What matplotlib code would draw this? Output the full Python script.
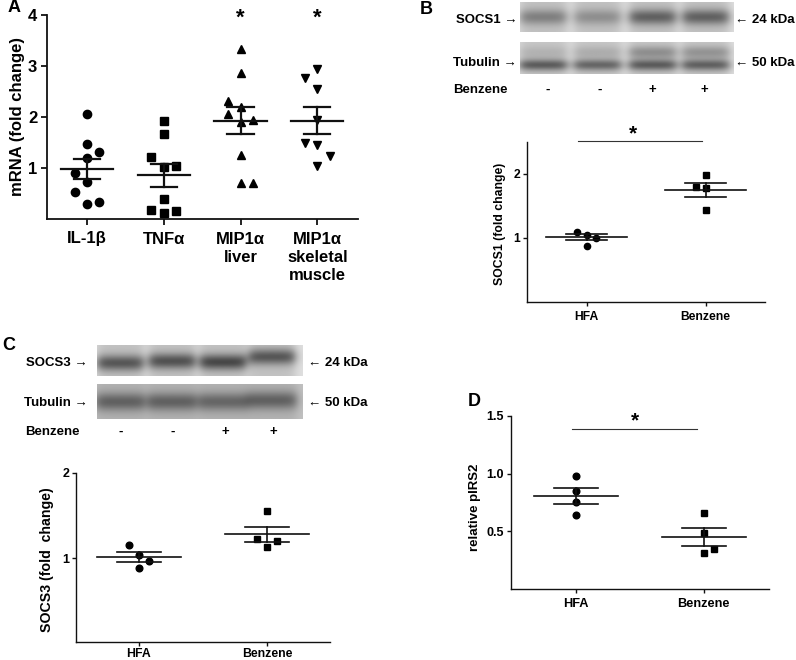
import numpy as np
import matplotlib
matplotlib.use('Agg')
import matplotlib.pyplot as plt

plt.rcParams['font.family'] = ['Liberation Sans', 'DejaVu Sans']
plt.rcParams['font.weight'] = 'bold'
plt.rcParams['axes.labelweight'] = 'bold'

# ---------------- data ----------------
# Panel A
a_categories = ['IL-1β', 'TNFα', 'MIP1α\nliver', 'MIP1α\nskeletal\nmuscle']
a_il1b = [2.06, 1.47, 1.32, 1.20, 0.90, 0.73, 0.52, 0.29, 0.34]
a_il1b_slot = [0, 0, 1, 0, -1, 0, -1, 0, 1]
a_tnfa = [1.93, 1.66, 1.21, 1.01, 1.03, 0.40, 0.18, 0.12, 0.16]
a_tnfa_slot = [0, 0, -1, 0, 1, 0, -1, 0, 1]
a_mip_liver = [3.33, 2.86, 2.32, 2.19, 2.06, 1.91, 1.95, 1.25, 0.70, 0.70]
a_mip_liver_slot = [0, 0, -1, 0, -1, 0, 1, 0, 0, 1]
a_mip_muscle = [2.94, 2.77, 2.54, 1.95, 1.50, 1.45, 1.24, 1.03]
a_mip_muscle_slot = [0, -1, 0, 0, -1, 0, 1, 0]
a_yticks = [1, 2, 3, 4]
a_significant = [2, 3]

# Panel B
b_groups = ['HFA', 'Benzene']
b_hfa = [1.09, 1.05, 1.00, 0.875]
b_hfa_slot = [-1, 0, 1, 0]
b_benz = [1.99, 1.79, 1.78, 1.43]
b_benz_slot = [0, -1, 0, 0]
b_yticks = [1, 2]
b_signs = ['-', '-', '+', '+']
b_socs1_bands = [0.26, 0.20, 0.38, 0.38]
b_socs1_pos = [0.5, 0.5, 0.5, 0.5]
b_tub_bands = [0.42, 0.38, 0.42, 0.40]
b_tub_pos = [0.72, 0.72, 0.72, 0.72]
b_tub_smear = [0.08, 0.10, 0.22, 0.20]

# Panel C
c_groups = ['HFA', 'Benzene']
c_hfa = [1.16, 1.04, 0.97, 0.88]
c_hfa_slot = [-1, 0, 1, 0]
c_benz = [1.55, 1.23, 1.20, 1.13]
c_benz_slot = [0, -1, 1, 0]
c_yticks = [1, 2]
c_signs = ['-', '-', '+', '+']
c_socs3_bands = [0.42, 0.44, 0.48, 0.42]
c_socs3_pos = [0.58, 0.52, 0.55, 0.38]
c_tub_bands = [0.32, 0.32, 0.30, 0.32]
c_tub_pos = [0.52, 0.52, 0.52, 0.48]

# Panel D
d_groups = ['HFA', 'Benzene']
d_hfa = [0.974, 0.846, 0.75, 0.64]
d_hfa_slot = [0, 0, 0, 0]
d_benz = [0.66, 0.48, 0.34, 0.31]
d_benz_slot = [0, 0, 1, 0]
d_yticks = [0.5, 1.0, 1.5]

# ---------------- figure ----------------
W, H = 796, 660
fig = plt.figure(figsize=(W / 100, H / 100), dpi=100)


def rect(l, t, r, b):
    return [l / W, 1 - b / H, (r - l) / W, (b - t) / H]


def ftext(x, y, s, **kw):
    fig.text(x / W, 1 - y / H, s, **kw)


def mean_sem(ax, x, vals, mhalf, chalf, lw):
    v = np.asarray(vals)
    m = v.mean()
    se = v.std(ddof=1) / np.sqrt(len(v))
    ax.plot([x - mhalf, x + mhalf], [m, m], color='#111111', lw=lw, zorder=4)
    ax.plot([x - chalf, x + chalf], [m + se, m + se], color='#111111', lw=lw, zorder=4)
    ax.plot([x - chalf, x + chalf], [m - se, m - se], color='#111111', lw=lw, zorder=4)
    ax.plot([x, x], [m - se, m + se], color='#111111', lw=lw, zorder=4)


def style(ax, lw, ticklen):
    for s in ['top', 'right']:
        ax.spines[s].set_visible(False)
    for s in ['left', 'bottom']:
        ax.spines[s].set_linewidth(lw)
        ax.spines[s].set_color('#111111')
    ax.tick_params(width=lw, length=ticklen, color='#111111')


def blot(rect_px, centers, dark, pos, band_sy, bg, lane_dark, hw, smear=None, smear_y=0.3):
    ax = fig.add_axes(rect(*rect_px))
    nx, ny = 400, 80
    X, Y = np.meshgrid(np.linspace(0, 1, nx), np.linspace(0, 1, ny))
    img = np.full((ny, nx), bg)
    for i, cx in enumerate(centers):
        lane = 1 / (1 + np.exp((np.abs(X - cx) - hw) / 0.014))
        img -= lane_dark * lane
        img -= dark[i] * lane * np.exp(-((Y - pos[i]) / band_sy) ** 2)
        if smear is not None:
            img -= smear[i] * lane * np.exp(-((Y - smear_y) / 0.2) ** 2)
    ax.imshow(img, cmap='gray', vmin=0, vmax=1, aspect='auto',
              extent=[0, 1, 0, 1], interpolation='bilinear')
    ax.set_xticks([])
    ax.set_yticks([])
    for s in ax.spines.values():
        s.set_visible(False)
    return ax


# ---------------- Panel A ----------------
axA = fig.add_axes(rect(47, 15, 358, 219))
jitA = 0.16
a_series = [(a_il1b, a_il1b_slot, 'o', 8.3),
            (a_tnfa, a_tnfa_slot, 's', 7.3),
            (a_mip_liver, a_mip_liver_slot, '^', 8.0),
            (a_mip_muscle, a_mip_muscle_slot, 'v', 8.0)]
for i, (vals, slots, mk, ms) in enumerate(a_series):
    xs = [i + s * jitA for s in slots]
    axA.plot(xs, vals, linestyle='none', marker=mk, color='black',
             markersize=ms * 0.72, zorder=3)
    mean_sem(axA, i, vals, 0.34, 0.17, 1.6)
for i in a_significant:
    axA.text(i, 3.93, '*', ha='center', va='center', fontsize=16)
axA.set_xlim(-0.52, 3.53)
axA.set_ylim(0, 4)
axA.set_yticks(a_yticks)
axA.set_xticks(range(len(a_categories)))
axA.set_xticklabels(a_categories, fontsize=12, linespacing=1.25)
axA.tick_params(axis='y', labelsize=12, pad=3)
axA.tick_params(axis='x', pad=5)
style(axA, 1.3, 4)
ftext(18, 117, 'mRNA (fold change)', rotation=90, ha='center', va='center', fontsize=12)
ftext(8, 8, 'A', ha='left', va='center', fontsize=13)

# ---------------- Panel B ----------------
lane_b = [0.108, 0.362, 0.62, 0.869]
blot((520, 2, 733, 32), lane_b, b_socs1_bands, b_socs1_pos, 0.26, 0.88, 0.12, 0.108)
blot((520, 42, 733, 74), lane_b, b_tub_bands, b_tub_pos, 0.18, 0.88, 0.10, 0.11,
     smear=b_tub_smear, smear_y=0.32)
ftext(517, 20, 'SOCS1 →', ha='right', va='center', fontsize=9.5)
ftext(517, 63, 'Tubulin →', ha='right', va='center', fontsize=9.5)
ftext(735, 20, '← 24 kDa', ha='left', va='center', fontsize=9.5)
ftext(735, 63, '← 50 kDa', ha='left', va='center', fontsize=9.5)
ftext(453, 90, 'Benzene', ha='left', va='center', fontsize=9.5)
for xpx, s in zip([548, 600, 652, 704], b_signs):
    ftext(xpx, 90, s, ha='center', va='center', fontsize=9.5)
ftext(420, 9, 'B', ha='left', va='center', fontsize=13)

axB = fig.add_axes(rect(527, 142, 765, 301.5))
jitB = 0.084
for i, (vals, slots, mk) in enumerate([(b_hfa, b_hfa_slot, 'o'), (b_benz, b_benz_slot, 's')]):
    xs = [i + s * jitB for s in slots]
    axB.plot(xs, vals, linestyle='none', marker=mk, color='black', markersize=4.5, zorder=3)
    mean_sem(axB, i, vals, 0.34, 0.17, 1.2)
axB.set_xlim(-0.5, 1.5)
axB.set_ylim(0, 2.5)
axB.set_yticks(b_yticks)
axB.set_xticks(range(len(b_groups)))
axB.set_xticklabels(b_groups, fontsize=8.7)
axB.tick_params(axis='y', labelsize=8.7, pad=2)
style(axB, 1.0, 3)
axB.plot([-0.07, 0.97], [2.52, 2.52], color='#333333', lw=0.8, clip_on=False)
axB.text(0.39, 2.62, '*', ha='center', va='center', fontsize=15)
ftext(500, 224, 'SOCS1 (fold change)', rotation=90, ha='center', va='center', fontsize=8.8)

# ---------------- Panel C ----------------
lane_c = [0.112, 0.364, 0.612, 0.85]
blot((97, 345, 303, 376), lane_c, c_socs3_bands, c_socs3_pos, 0.26, 0.88, 0.12, 0.112)
blot((97, 384, 303, 419), lane_c, c_tub_bands, c_tub_pos, 0.26, 0.76, 0.06, 0.12)
ftext(88, 363, 'SOCS3 →', ha='right', va='center', fontsize=9.5)
ftext(88, 403, 'Tubulin →', ha='right', va='center', fontsize=9.5)
ftext(308, 363, '← 24 kDa', ha='left', va='center', fontsize=9.5)
ftext(308, 403, '← 50 kDa', ha='left', va='center', fontsize=9.5)
ftext(25, 432, 'Benzene', ha='left', va='center', fontsize=9.5)
for xpx, s in zip([121, 173, 225, 273], c_signs):
    ftext(xpx, 432, s, ha='center', va='center', fontsize=9.5)
ftext(2, 345, 'C', ha='left', va='center', fontsize=13)

axC = fig.add_axes(rect(76, 472.7, 330, 642))
jitC = 0.078
for i, (vals, slots, mk) in enumerate([(c_hfa, c_hfa_slot, 'o'), (c_benz, c_benz_slot, 's')]):
    xs = [i + s * jitC for s in slots]
    axC.plot(xs, vals, linestyle='none', marker=mk, color='black', markersize=4.8, zorder=3)
    mean_sem(axC, i, vals, 0.33, 0.17, 1.2)
axC.set_xlim(-0.49, 1.49)
axC.set_ylim(0.02, 2)
axC.set_yticks(c_yticks)
axC.set_xticks(range(len(c_groups)))
axC.set_xticklabels(c_groups, fontsize=8.8)
axC.tick_params(axis='y', labelsize=9, pad=2)
style(axC, 1.0, 3)
axC.tick_params(axis='x', length=3, pad=1)
ftext(47, 560, 'SOCS3 (fold  change)', rotation=90, ha='center', va='center', fontsize=10.2)

# ---------------- Panel D ----------------
axD = fig.add_axes(rect(511, 416, 769, 588.5))
jitD = 0.083
for i, (vals, slots, mk) in enumerate([(d_hfa, d_hfa_slot, 'o'), (d_benz, d_benz_slot, 's')]):
    xs = [i + s * jitD for s in slots]
    axD.plot(xs, vals, linestyle='none', marker=mk, color='black', markersize=4.8, zorder=3)
    mean_sem(axD, i, vals, 0.33, 0.17, 1.2)
axD.set_xlim(-0.51, 1.51)
axD.set_ylim(0, 1.5)
axD.set_yticks(d_yticks)
axD.set_yticklabels([f'{v:.1f}' for v in d_yticks])
axD.set_xticks(range(len(d_groups)))
axD.set_xticklabels(d_groups, fontsize=9.2)
axD.tick_params(axis='y', labelsize=9, pad=2)
style(axD, 1.0, 3)
axD.plot([-0.03, 0.95], [1.387, 1.387], color='#333333', lw=0.8)
axD.text(0.46, 1.46, '*', ha='center', va='center', fontsize=15)
ftext(475, 507, 'relative pIRS2', rotation=90, ha='center', va='center', fontsize=9.5)
ftext(468, 402, 'D', ha='left', va='center', fontsize=13)

fig.savefig('out.png', dpi=100)
